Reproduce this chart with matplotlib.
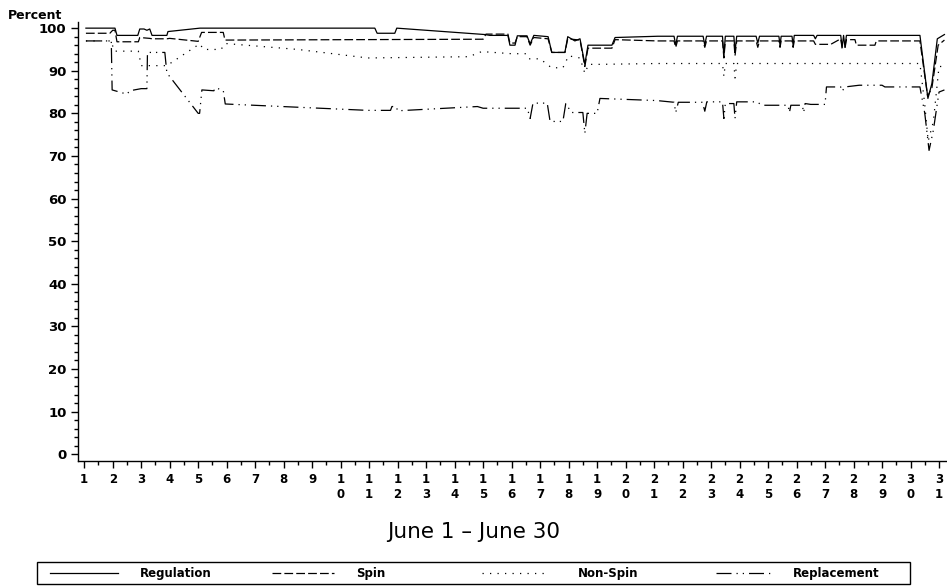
import matplotlib
matplotlib.use("Agg")
import matplotlib.pyplot as plt
from matplotlib.lines import Line2D
from matplotlib.patches import Rectangle
from matplotlib.ticker import MultipleLocator, FixedLocator

# Hourly-ish breakpoints, x in days of June (31 = July 1), y in percent
reg_day = [1.06, 2.08, 2.15, 2.88, 2.95, 3.1, 3.2, 3.3, 3.38, 3.9, 3.94, 5.06,
           11.2, 11.28, 11.9, 11.97, 15.06, 15.24, 15.87, 15.94, 16.12, 16.2,
           16.54, 16.65, 16.78, 17.28, 17.41, 17.87, 17.97, 18.22, 18.4, 18.57,
           18.68, 19.52, 19.63, 21.13, 21.7, 21.76, 21.82, 22.72, 22.78, 22.84,
           23.4, 23.45, 23.5, 23.8, 23.84, 23.9, 24.58, 24.64, 24.7, 25.38,
           25.42, 25.46, 25.84, 25.88, 25.92, 26.6, 26.66, 26.72, 27.55, 27.6,
           27.65, 27.7, 27.75, 30.33, 30.61, 30.75, 30.94, 31.19]
reg_val = [100, 100, 98.3, 98.3, 99.8, 99.8, 99.5, 99.8, 98.3, 98.3, 99.2, 100,
           100, 98.8, 98.8, 100, 98.5, 98.3, 98.3, 96.0, 96.0, 98.2,
           98.2, 96.3, 98.3, 98.0, 94.3, 94.3, 98.0, 97.0, 97.5, 91.5,
           96.0, 96.0, 97.8, 98.1, 98.1, 96.0, 98.1, 98.1, 96.0, 98.1,
           98.1, 93.5, 98.1, 98.1, 94.5, 98.1, 98.1, 96.5, 98.1, 98.1,
           96.0, 98.1, 98.1, 96.0, 98.3, 98.3, 97.5, 98.3, 98.3, 95.5,
           98.3, 95.5, 98.3, 98.3, 83.5, 87.0, 97.5, 98.5]

spin_day = [1.06, 1.9, 2.0, 2.08, 2.15, 2.9, 2.95, 3.3, 3.38, 3.9, 4.0, 5.0,
            5.12, 5.88, 5.94, 15.0, 15.1, 15.87, 15.94, 16.12, 16.2, 16.54,
            16.65, 16.78, 17.28, 17.41, 17.87, 17.97, 18.4, 18.57, 18.68, 19.52,
            19.63, 21.13, 21.7, 21.76, 21.82, 22.72, 22.78, 22.84, 23.4, 23.45,
            23.5, 23.8, 23.84, 23.9, 24.58, 24.64, 24.7, 25.38, 25.42, 25.46,
            25.84, 25.88, 25.92, 26.6, 26.66, 27.2, 27.55, 27.6, 27.7, 27.75,
            28.05, 28.1, 28.75, 28.8, 30.33, 30.6, 30.75, 30.97, 31.19]
spin_val = [98.8, 98.8, 99.5, 99.5, 96.8, 96.8, 97.8, 97.6, 97.5, 97.5, 97.6, 96.9,
            99.0, 99.0, 97.2, 97.4, 98.6, 98.6, 96.5, 96.5, 98.0, 98.0,
            96.0, 97.8, 97.5, 94.3, 94.3, 97.5, 97.2, 91.0, 95.3, 95.3,
            97.3, 97.0, 97.0, 95.5, 97.0, 97.0, 95.5, 97.0, 97.0, 93.0,
            97.0, 97.0, 93.5, 97.0, 97.0, 95.5, 97.0, 97.0, 95.5, 97.0,
            97.0, 95.5, 97.0, 97.0, 96.2, 96.2, 97.5, 95.3, 95.3, 97.3,
            97.3, 96.0, 96.0, 97.0, 97.0, 84.0, 86.0, 96.0, 97.2]

nspin_day = [1.06, 1.95, 2.05, 2.9, 3.0, 3.9, 5.05, 5.2, 5.8, 5.95, 8.5, 10.95,
             14.5, 14.95, 16.0, 16.5, 16.6, 17.0, 17.4, 17.8, 18.0, 18.4,
             18.57, 18.7, 19.1, 21.1, 23.4, 23.45, 23.5, 23.8, 23.84, 23.9,
             30.33, 30.5, 30.62, 30.8, 31.0, 31.19]
nspin_val = [97.0, 97.0, 94.6, 94.6, 91.2, 91.2, 96.3, 95.0, 95.0, 96.4, 95.0, 93.0,
             93.3, 94.5, 94.0, 94.0, 92.8, 92.8, 90.7, 90.7, 93.5, 93.0,
             89.4, 91.5, 91.5, 91.7, 91.7, 88.7, 91.7, 91.7, 88.3, 91.7,
             91.7, 82.0, 73.5, 78.0, 91.0, 91.0]

repl_day = [1.06, 1.95, 1.98, 2.5, 2.6, 3.0, 3.2, 3.22, 3.83, 3.9, 5.0, 5.05,
            5.13, 5.55, 5.6, 5.88, 5.95, 10.95, 11.75, 11.8, 11.95, 12.0, 14.8,
            15.0, 16.55, 16.65, 16.75, 17.25, 17.35, 17.8, 17.9, 18.1, 18.5,
            18.57, 18.65, 19.0, 19.1, 21.1, 21.7, 21.76, 21.85, 22.7, 22.78,
            22.85, 23.4, 23.45, 23.5, 23.8, 23.84, 23.9, 24.6, 24.8, 25.7,
            25.75, 25.8, 26.2, 26.25, 26.3, 26.5, 26.66, 27.0, 27.05, 27.55,
            27.6, 27.7, 28.2, 29.0, 29.1, 30.33, 30.5, 30.65, 30.8, 31.0, 31.19]
repl_val = [97.0, 97.0, 85.5, 84.5, 85.3, 85.8, 85.8, 94.3, 94.3, 89.5, 80.0, 80.0,
            85.5, 85.3, 86.0, 85.4, 82.2, 80.7, 80.7, 81.6, 81.6, 80.6, 81.6,
            81.2, 81.2, 78.8, 82.4, 82.4, 78.1, 78.1, 82.3, 80.2, 80.2,
            75.3, 80.0, 80.0, 83.5, 83.0, 82.6, 80.2, 82.6, 82.6, 80.5,
            82.7, 82.7, 78.8, 82.3, 82.3, 78.8, 82.7, 82.7, 81.9, 81.9,
            80.2, 81.9, 81.9, 80.2, 82.3, 82.1, 82.1, 82.1, 86.2, 86.2,
            85.2, 86.2, 86.6, 86.6, 86.2, 86.2, 80.0, 71.3, 76.0, 85.0, 85.5]

series = [
    ("Regulation", reg_day, reg_val, "-"),
    ("Spin", spin_day, spin_val, (0, (7, 2.5))),
    ("Non-Spin", nspin_day, nspin_val, (0, (1, 5))),
    ("Replacement", repl_day, repl_val, (0, (12, 4, 1, 4, 1, 4))),
]

day_labels = ["\n".join(str(d)) for d in range(1, 32)]

plt.rcParams["font.family"] = "DejaVu Sans"

W, H = 947, 588
fig = plt.figure(figsize=(W / 100, H / 100), dpi=100)
ax = fig.add_axes([0.082, 0.216, 0.918, 0.747])

for name, xs, ys, ls in series:
    ax.plot(xs, ys, color="black", linestyle=ls, linewidth=0.9, label=name)

ax.set_xlim(0.77, 31.28)
ax.set_ylim(-1.6, 101.5)

ax.spines["top"].set_visible(False)
ax.spines["right"].set_visible(False)
for s in ("left", "bottom"):
    ax.spines[s].set_linewidth(1.0)

ax.yaxis.set_major_locator(MultipleLocator(10))
ax.yaxis.set_minor_locator(MultipleLocator(2))
ax.xaxis.set_major_locator(FixedLocator(range(1, 32)))
ax.xaxis.set_minor_locator(MultipleLocator(0.5))
ax.set_xticklabels(day_labels, linespacing=1.15)

ax.tick_params(axis="both", which="major", direction="out", length=5, width=1,
               labelsize=8.5)
ax.tick_params(axis="y", which="major", labelsize=9.5)
ax.tick_params(axis="both", which="minor", direction="out", length=3, width=1)
for lbl in ax.get_xticklabels() + ax.get_yticklabels():
    lbl.set_fontweight("bold")
ax.tick_params(axis="x", pad=4)
ax.tick_params(axis="y", pad=3)

fig.text(8 / W, 1 - 19 / H, "Percent", fontsize=9, fontweight="bold",
         ha="left", va="baseline")
fig.text(0.5, 0.095, "June 1 \u2013 June 30", fontsize=15.5, ha="center",
         va="center")

# legend box drawn by hand so the four entries sit at fixed spots
box_l, box_r, box_t, box_b = 37, 910, 562, 584
fig.patches.append(Rectangle((box_l / W, 1 - box_b / H),
                             (box_r - box_l) / W, (box_b - box_t) / H,
                             transform=fig.transFigure, fill=False,
                             edgecolor="black", linewidth=1.0))
sample_x = [(50, 118), (272, 334), (482, 548), (716, 774)]
text_x = [140, 356, 578, 793]
y_mid = 1 - (box_t + box_b) / 2 / H
for (name, _, _, ls), (x0, x1), tx in zip(series, sample_x, text_x):
    fig.add_artist(Line2D([x0 / W, x1 / W], [y_mid, y_mid],
                          transform=fig.transFigure, color="black",
                          linestyle=ls, linewidth=0.9))
    fig.text(tx / W, y_mid, name, fontsize=8.5, fontweight="bold",
             ha="left", va="center")

fig.savefig("out.png", dpi=100)
